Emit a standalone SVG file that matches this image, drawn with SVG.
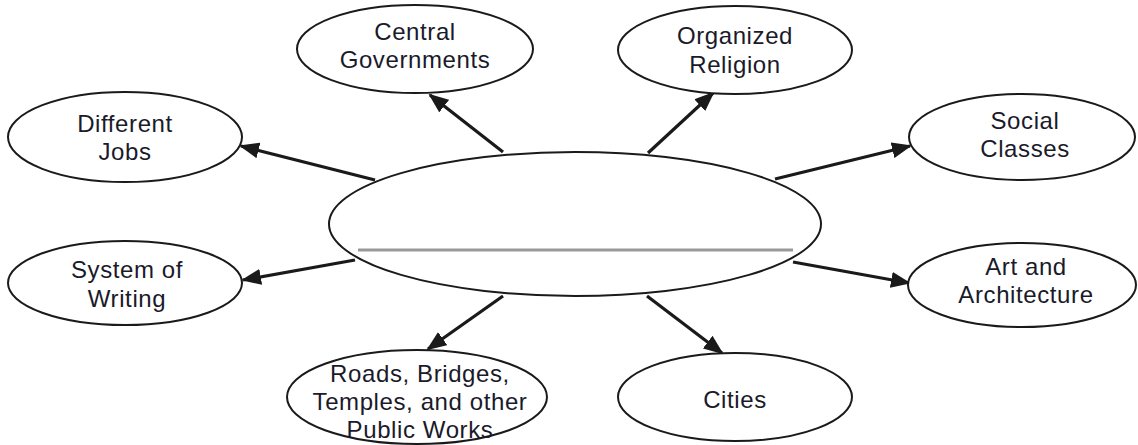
<svg xmlns="http://www.w3.org/2000/svg" width="1138" height="445" viewBox="0 0 1138 445">
<style>
.n{fill:#fff;stroke:#1a1a1a;stroke-width:2}
.t{font-family:"Liberation Sans",Arial,sans-serif;font-size:24px;letter-spacing:0.6px;fill:#1a1a2a;text-anchor:middle}
.c{stroke:#1a1a1a;stroke-width:3.2;fill:none;marker-end:url(#ah)}
</style>
<defs>
<marker id="ah" markerUnits="userSpaceOnUse" markerWidth="20" markerHeight="16" refX="18" refY="8" orient="auto">
<path d="M0,0 L20,8 L0,16 Z" fill="#1a1a1a"/>
</marker>
</defs>
<g id="connectors">
<line class="c" x1="503" y1="152" x2="430" y2="95"/>
<line class="c" x1="648" y1="153" x2="713" y2="93"/>
<line class="c" x1="375" y1="180" x2="241" y2="146"/>
<line class="c" x1="775" y1="179" x2="910" y2="146"/>
<line class="c" x1="355" y1="260" x2="243" y2="280"/>
<line class="c" x1="793" y1="262" x2="909" y2="283"/>
<line class="c" x1="503" y1="296" x2="428" y2="349"/>
<line class="c" x1="647" y1="296" x2="722" y2="353"/>
</g>
<g id="center">
<ellipse class="n" cx="575" cy="224" rx="246" ry="72"/>
<line x1="358" y1="250" x2="793" y2="250" stroke="#999" stroke-width="3"/>
</g>
<g id="central-governments">
<ellipse class="n" cx="415" cy="49" rx="118" ry="44"/>
<text class="t" x="415" y="40">Central</text>
<text class="t" x="415" y="68">Governments</text>
</g>
<g id="organized-religion">
<ellipse class="n" cx="735" cy="50" rx="117" ry="44"/>
<text class="t" x="735" y="44">Organized</text>
<text class="t" x="735" y="73">Religion</text>
</g>
<g id="different-jobs">
<ellipse class="n" cx="125" cy="137" rx="117" ry="45"/>
<text class="t" x="125" y="132">Different</text>
<text class="t" x="125" y="160">Jobs</text>
</g>
<g id="social-classes">
<ellipse class="n" cx="1022" cy="137" rx="113" ry="43"/>
<text class="t" x="1025" y="129">Social</text>
<text class="t" x="1025" y="157">Classes</text>
</g>
<g id="system-of-writing">
<ellipse class="n" cx="125" cy="283" rx="117" ry="42"/>
<text class="t" x="127" y="278">System of</text>
<text class="t" x="127" y="307">Writing</text>
</g>
<g id="art-and-architecture">
<ellipse class="n" cx="1022" cy="285" rx="114" ry="42"/>
<text class="t" x="1026" y="275">Art and</text>
<text class="t" x="1026" y="303">Architecture</text>
</g>
<g id="public-works">
<ellipse class="n" cx="417" cy="397" rx="130" ry="47"/>
<text class="t" x="420" y="382">Roads, Bridges,</text>
<text class="t" x="420" y="410">Temples, and other</text>
<text class="t" x="420" y="438">Public Works</text>
</g>
<g id="cities">
<ellipse class="n" cx="735" cy="397" rx="117" ry="44"/>
<text class="t" x="735" y="408">Cities</text>
</g>
</svg>
